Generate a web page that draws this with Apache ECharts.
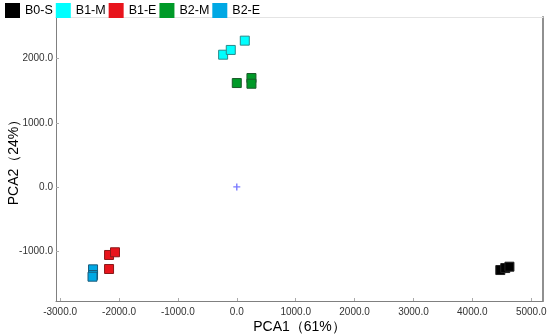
<!DOCTYPE html>
<html><head><meta charset="utf-8">
<script src="https://cdn.jsdelivr.net/npm/echarts@6/dist/echarts.min.js"></script>
<style>html,body{margin:0;padding:0;background:#fff}#c{width:550px;height:336px}</style>
</head><body><div id="c"></div>
<script>
const seriesNames = ['B0-S','B1-M','B1-E','B2-M','B2-E'];
const B0S = [[4475,-1297],[4559,-1266],[4630,-1245]];
const B1M = [[-232,2062],[-102,2136],[136,2281]];
const B1E = [[-2169,-1062],[-2068,-1020],[-2169,-1281]];
const B2M = [[0,1620],[249,1698],[249,1609]];
const B2E = [[-2441,-1286],[-2441,-1375],[-2450,-1401]];
const origin = [[0,0]];
const xTicks = [-3000,-2000,-1000,0,1000,2000,3000,4000,5000];
const yTicks = [-1000,0,1000,2000];
const colors = ['#000000','#00FFFF','#E8141C','#009A28','#00A8E4'];
const borders = ['#222222','#2a8a8a','#8a1a1a','#1a5a2a','#1a5a7a'];
const dataSets = [B0S,B1M,B1E,B2M,B2E];

const chart = echarts.init(document.getElementById('c'));
const font = 'Liberation Sans, Arial, sans-serif';
chart.setOption({
  animation:false,
  legend:{left:5,top:3,padding:0,itemWidth:15,itemHeight:15,itemGap:3,
    icon:'rect',itemStyle:{borderWidth:0},
    textStyle:{fontSize:12.5,color:'#000',fontFamily:font},
    data:seriesNames},
  grid:{left:56,right:7,top:17,bottom:35,containLabel:false,outerBoundsMode:'none'},
  xAxis:[{type:'value',min:-3070,max:5200,interval:1000,
    name:'PCA1（61%）',nameLocation:'middle',nameGap:19,nameMoveOverlap:false,
    nameTextStyle:{fontSize:14,color:'#000',fontFamily:font},
    axisLine:{onZero:false,lineStyle:{color:'#808080',width:1}},
    axisTick:{inside:true,length:3,customValues:xTicks,lineStyle:{color:'#aaa'}},
    splitLine:{show:false},
    axisLabel:{fontSize:10,color:'#333',fontFamily:font,margin:6,
      customValues:xTicks,formatter:v=>v.toFixed(1)}},
    {type:'value',position:'top',min:-3070,max:5200,
    axisLine:{show:true,onZero:false,lineStyle:{color:'#e4e4e4'}},axisTick:{show:false},axisLabel:{show:false},splitLine:{show:false}}],
  yAxis:[{type:'value',min:-1780,max:2650,
    name:'PCA2（24%）',nameLocation:'middle',nameGap:35,nameMoveOverlap:false,
    nameTextStyle:{fontSize:14,color:'#000',fontFamily:font},
    axisLine:{show:true,onZero:false,lineStyle:{color:'#808080',width:1}},
    axisTick:{show:true,inside:true,length:3,customValues:yTicks,lineStyle:{color:'#aaa'}},
    splitLine:{show:false},
    axisLabel:{fontSize:10,color:'#333',fontFamily:font,margin:3,
      customValues:yTicks,formatter:v=>v.toFixed(1)}},
    {type:'value',position:'right',min:-1780,max:2650,
    axisLine:{show:true,onZero:false,lineStyle:{color:'#909090',width:2}},axisTick:{show:false},axisLabel:{show:false},splitLine:{show:false}}],
  series: dataSets.map((d,i)=>({
    name:seriesNames[i],type:'scatter',symbol:'rect',symbolSize:9,
    itemStyle:{color:colors[i],borderColor:borders[i],borderWidth:1,opacity:1},
    data:d
  })).concat([{
    name:'origin',type:'scatter',symbol:'path://M4,0 L6,0 L6,4 L10,4 L10,6 L6,6 L6,10 L4,10 L4,6 L0,6 L0,4 L4,4 Z',
    symbolSize:7,itemStyle:{color:'#5a5aff'},data:origin
  }])
});
</script></body></html>
